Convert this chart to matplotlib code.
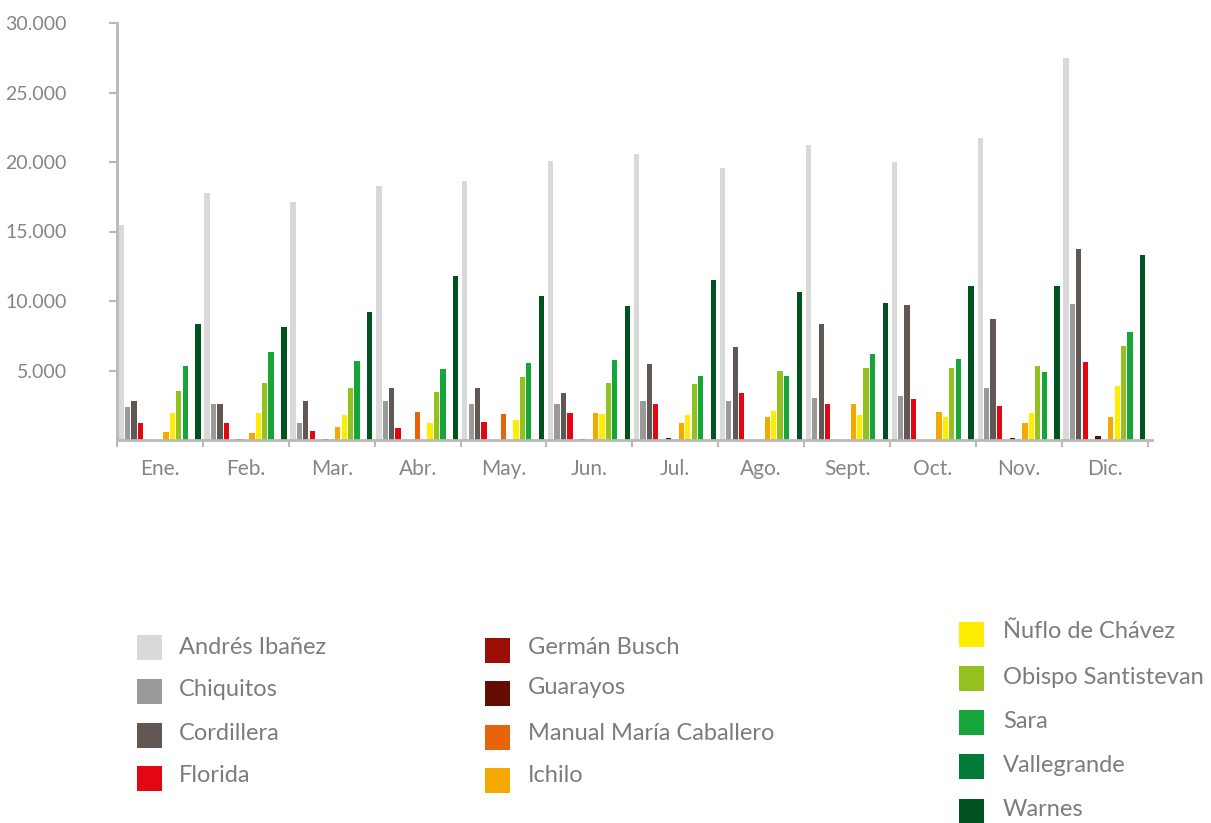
import numpy as np
import matplotlib
matplotlib.use("Agg")
import matplotlib.pyplot as plt
from matplotlib.patches import Rectangle
from matplotlib.ticker import FuncFormatter

plt.rcParams['font.family'] = ['Lato', 'DejaVu Sans']

# Data
months = ["Ene.", "Feb.", "Mar.", "Abr.", "May.", "Jun.", "Jul.", "Ago.",
          "Sept.", "Oct.", "Nov.", "Dic."]

andres_ibanez = [15500, 17800, 17100, 18300, 18650, 20100, 20600, 19600, 21200, 20000, 21700, 27450]
chiquitos = [2400, 2580, 1250, 2770, 2580, 2580, 2770, 2820, 3010, 3180, 3730, 9820]
cordillera = [2770, 2580, 2770, 3730, 3730, 3370, 5460, 6690, 8350, 9680, 8710, 13770]
florida = [1250, 1200, 650, 890, 1320, 1970, 2580, 3370, 2580, 2960, 2460, 5580]
german_busch = [0, 0, 0, 0, 0, 0, 0, 0, 0, 0, 0, 0]
guarayos = [0, 60, 80, 0, 0, 60, 150, 0, 0, 0, 120, 290]
manual_maria = [0, 0, 0, 2040, 1880, 0, 0, 0, 0, 0, 0, 0]
ichilo = [600, 480, 960, 0, 0, 1950, 1250, 1680, 2580, 2040, 1200, 1680]
nuflo = [1930, 1930, 1800, 1200, 1450, 1900, 1800, 2120, 1800, 1640, 1930, 3900]
obispo = [3560, 4090, 3730, 3420, 4530, 4090, 4050, 4930, 5170, 5170, 5300, 6790]
sara = [5340, 6330, 5650, 5100, 5540, 5730, 4570, 4570, 6210, 5830, 4860, 7750]
vallegrande = [0, 0, 0, 0, 0, 0, 0, 0, 0, 0, 0, 0]
warnes = [8380, 8110, 9190, 11790, 10350, 9670, 11480, 10640, 9870, 11070, 11070, 13290]

names = ["Andrés Ibañez", "Chiquitos", "Cordillera", "Florida", "Germán Busch",
         "Guarayos", "Manual María Caballero", "Ichilo", "Ñuflo de Chávez",
         "Obispo Santistevan", "Sara", "Vallegrande", "Warnes"]
series = [andres_ibanez, chiquitos, cordillera, florida, german_busch, guarayos,
          manual_maria, ichilo, nuflo, obispo, sara, vallegrande, warnes]
colors = ["#d9d9d9", "#9a9a9a", "#625853", "#e30613", "#9b0f06", "#650c00",
          "#e8640a", "#f5a800", "#ffed00", "#95c11f", "#16a538", "#007a37", "#00521f"]

W, H = 1211, 823
fig = plt.figure(figsize=(W / 100, H / 100), dpi=100)
ax = fig.add_axes([117 / W, 1 - 440 / H, (1152 - 117) / W, (440 - 23) / H])

x = np.arange(len(months))
slot = 0.0745
for j, (vals, c) in enumerate(zip(series, colors)):
    ax.bar(x + 0.012 + (j + 0.5) * slot, vals, width=slot * 0.82, color=c, linewidth=0)

ax.set_xlim(0, 12.05)
ax.set_ylim(0, 30000)

axis_col = "#b8b8b8"
for s in ["top", "right"]:
    ax.spines[s].set_visible(False)
for s in ["left", "bottom"]:
    ax.spines[s].set_color(axis_col)
    ax.spines[s].set_linewidth(2)

text_col = "#858585"
ax.set_yticks(np.arange(5000, 30001, 5000))
ax.yaxis.set_major_formatter(FuncFormatter(lambda v, p: f"{int(v):,}".replace(",", ".")))
ax.tick_params(axis="y", length=6, width=1.5, color=axis_col, labelsize=14,
               labelcolor=text_col, pad=30)

ax.set_xticks(np.arange(0, 13))
ax.set_xticklabels([])
ax.set_xticks(x + 0.5, minor=True)
ax.set_xticklabels(months, minor=True)
ax.tick_params(axis="x", which="major", length=5, width=1.5, color=axis_col)
ax.tick_params(axis="x", which="minor", length=0, labelsize=15,
               labelcolor=text_col, pad=14)

# Legend drawn in three columns below the chart
legend_cols = [
    (137, 179, [647, 691, 735, 778], [647, 690, 733, 776], range(0, 4)),
    (485, 528, [650, 693, 737, 780], [647, 687, 733, 776], range(4, 8)),
    (959, 1003, [634, 678, 722, 766, 811], [632, 677, 721, 765, 809], range(8, 13)),
]
for sx, tx, sy, ty, idx in legend_cols:
    for k, i in enumerate(idx):
        fig.add_artist(Rectangle((sx / W, 1 - (sy[k] + 12.5) / H), 25 / W, 25 / H,
                                 transform=fig.transFigure, color=colors[i], lw=0))
        fig.text(tx / W, 1 - ty[k] / H, names[i], fontsize=17, color="#7c7c7c",
                 va="center", ha="left")

fig.savefig("out.png", dpi=100, facecolor="white")
